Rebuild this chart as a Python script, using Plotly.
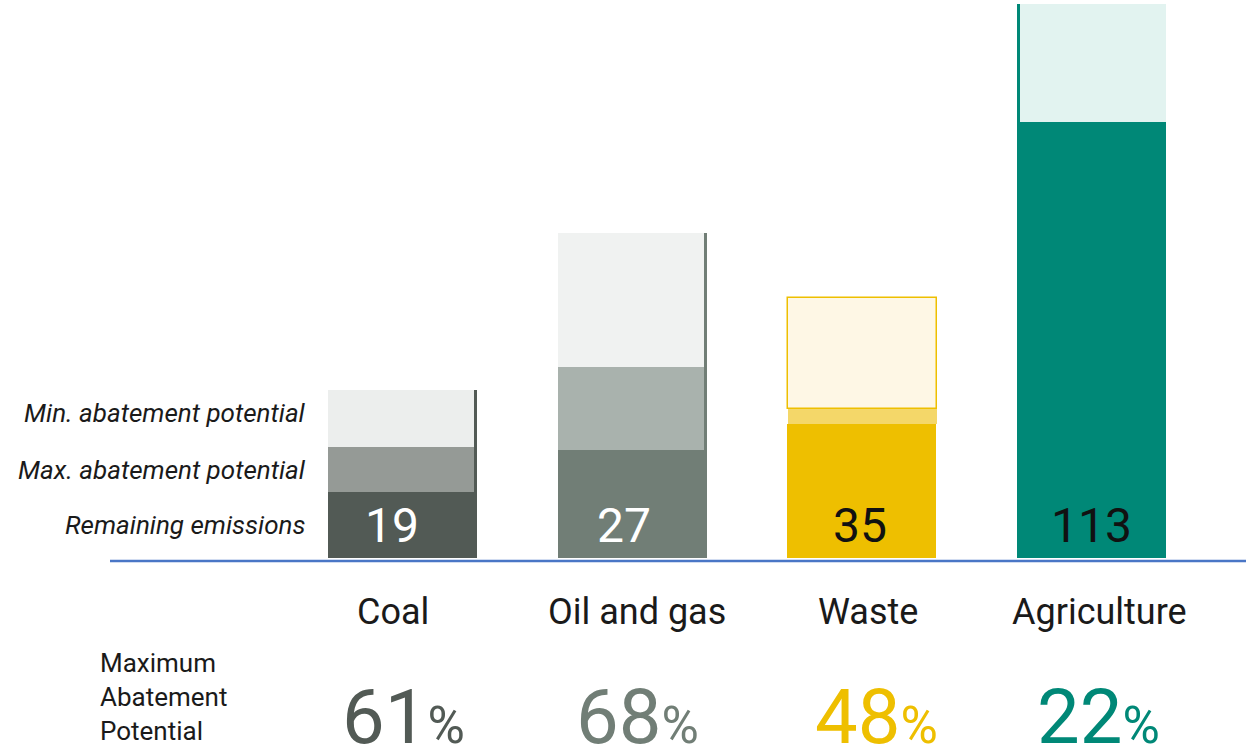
import plotly.graph_objects as go

# ---- data ----
categories = ["Coal", "Oil and gas", "Waste", "Agriculture"]
remaining = [17.1, 28.0, 34.7, 113.0]        # remaining emissions (bar height)
max_abatement = [11.7, 21.5, 3.9, 0.0]        # max. abatement potential segment
min_abatement = [14.8, 34.7, 28.8, 30.6]      # min. abatement potential segment
remaining_labels = ["19", "27", "35", "113"]
max_abatement_pct = ["61", "68", "48", "22"]

col_remaining = ["#525a55", "#717e76", "#eebf00", "#008877"]
col_max = ["#959a96", "#a9b2ad", "#f4d769", "#008877"]
col_min = ["#eceeed", "#f0f2f1", "#fef7e5", "#e2f3f0"]
col_label_in = ["#ffffff", "#ffffff", "#111111", "#111111"]

FONT = "Roboto"
PX = 3.86          # pixels per unit
Y0 = 558           # baseline pixel
H, Wpx = 747, 1246
SP = 229.8         # category spacing in px
C0 = 402.3         # first category centre px

num_shift = [-10, -8, -2, 0]
cat_shift = [-9, 5, 6, 8]
pct_shift = [1, 5, 15, 7]


def ydata(pix):
    return (Y0 - pix) / PX


W = 149 / SP
E = 3 / SP
totals = [r + a + b for r, a, b in zip(remaining, max_abatement, min_abatement)]
base_max = remaining
base_min = [r + a for r, a in zip(remaining, max_abatement)]

seg_w = [W - E, W - E, W, W - E]
seg_off = [-W / 2, -W / 2, -W / 2 + 0.5 / SP, -W / 2 + E]
back_col = [col_remaining[0], col_remaining[1], "rgba(0,0,0,0)", col_remaining[3]]

fig = go.Figure()
fig.add_trace(go.Bar(x=categories, y=totals, base=[0] * 4, width=[W] * 4, offset=[-W / 2] * 4,
                     marker=dict(color=back_col, line=dict(width=0)), hoverinfo="skip"))
fig.add_trace(go.Bar(x=categories, y=remaining, base=[0] * 4, width=[W] * 4, offset=[-W / 2] * 4,
                     marker=dict(color=col_remaining, line=dict(width=0)), hoverinfo="skip"))
fig.add_trace(go.Bar(x=categories, y=min_abatement, base=base_min, width=seg_w, offset=seg_off,
                     marker=dict(color=col_min,
                                 line=dict(width=[0, 0, 1.5, 0],
                                           color=["rgba(0,0,0,0)", "rgba(0,0,0,0)", "#eebf00", "rgba(0,0,0,0)"])),
                     hoverinfo="skip"))
fig.add_trace(go.Bar(x=categories, y=max_abatement, base=base_max, width=seg_w, offset=seg_off,
                     marker=dict(color=col_max, line=dict(width=0)), hoverinfo="skip"))

annotations = []
for i, c in enumerate(categories):
    annotations.append(dict(x=c, y=ydata(525), text=remaining_labels[i], showarrow=False,
                            xshift=num_shift[i],
                            font=dict(family=FONT, size=48, color=col_label_in[i]),
                            xanchor="center", yanchor="middle"))
    annotations.append(dict(x=c, y=ydata(612), text=c, showarrow=False, xshift=cat_shift[i],
                            font=dict(family=FONT, size=36, color="#1a1a1a"),
                            xanchor="center", yanchor="middle"))
    annotations.append(dict(x=c, y=ydata(717), text=max_abatement_pct[i] + "<span style='font-size:51px'>%</span>",
                            showarrow=False, xshift=pct_shift[i],
                            font=dict(family=FONT, size=76, color=col_remaining[i]),
                            xanchor="center", yanchor="middle"))

legend_labels = ["Min. abatement potential", "Max. abatement potential", "Remaining emissions"]
legend_y = [413, 470, 525]
for t, yp in zip(legend_labels, legend_y):
    annotations.append(dict(xref="paper", x=308 / Wpx, y=ydata(yp), text="<i>" + t + "</i>",
                            showarrow=False, font=dict(family=FONT, size=26, color="#1a1a1a"),
                            xanchor="right", yanchor="middle"))

annotations.append(dict(xref="paper", x=98 / Wpx, y=ydata(697), text="Maximum<br>Abatement<br>Potential",
                        showarrow=False, align="left", font=dict(family=FONT, size=26, color="#1a1a1a"),
                        xanchor="left", yanchor="middle"))

fig.update_layout(
    width=Wpx, height=H,
    margin=dict(l=0, r=0, t=0, b=0),
    paper_bgcolor="white", plot_bgcolor="white",
    barmode="overlay", bargap=0, showlegend=False,
    xaxis=dict(range=[-C0 / SP, (Wpx - C0) / SP], visible=False, fixedrange=True),
    yaxis=dict(range=[ydata(H), ydata(0)], visible=False, fixedrange=True),
    annotations=annotations,
    shapes=[dict(type="line", xref="paper", yref="y", x0=110 / Wpx, x1=1, y0=ydata(561), y1=ydata(561),
                 line=dict(color="#4a76c6", width=2.5))],
)

fig.write_html("out.html", config={"displayModeBar": False},
               post_script="document.body.style.margin='0';document.body.style.overflow='hidden';")
